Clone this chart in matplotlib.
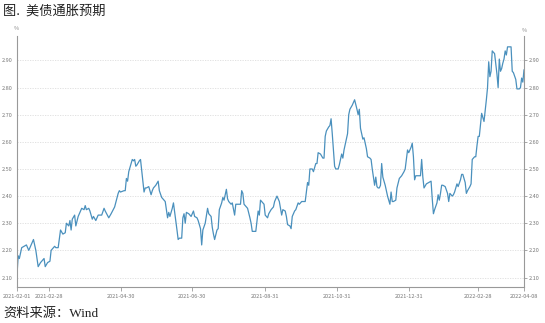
import pandas as pd
import matplotlib
matplotlib.use('Agg')
import matplotlib.pyplot as plt
import matplotlib.dates as mdates

plt.rcParams['font.family'] = ['Noto Sans CJK SC', 'DejaVu Sans']

# days since 2021-02-01, breakeven inflation (%)
start = '2021-02-01'
days = [0, 1, 2, 4, 6, 8, 10, 12, 14, 16, 18, 20, 22, 23, 24, 26, 28, 29, 30, 32,
        33, 35, 37, 39, 41, 42, 44, 45, 46, 47, 49, 50, 52, 54, 55, 57, 58, 59, 61, 62,
        63, 64, 65, 67, 69, 71, 72, 74, 75, 78, 80, 83, 86, 87, 88,
        91, 92, 93, 94, 95, 97, 98, 99, 100, 101, 102, 104, 105, 106, 108, 109, 110, 112,
        114, 115, 116, 118, 120, 121, 123, 124, 126, 127, 128, 129, 130, 132, 133, 135,
        136, 137, 138, 140, 141, 142, 143, 144, 146, 148, 150, 151, 153, 154, 156, 157,
        158, 160, 162, 163, 165, 166, 167, 168, 170, 171, 172, 174, 175,
        176, 178, 179, 180, 182, 183, 185, 186, 188, 190, 191, 192, 193, 195, 196, 198,
        199, 200, 202, 203, 205, 206, 207, 209, 210, 211, 213, 214, 216, 218, 219, 221,
        223, 224, 225, 226, 228, 229, 230, 232, 233, 234, 236, 237, 239, 240, 242, 244,
        245, 247, 248, 249, 251, 252, 254, 255, 256, 258, 260, 261,
        262, 263, 265, 266, 267, 268, 270, 271, 273, 274, 276, 277, 278, 280, 281, 282,
        283, 285, 286, 287, 289, 290, 291, 292, 293, 294, 295, 297, 298, 300, 301, 302,
        304, 305, 306, 307, 308, 309, 310, 311, 313, 314, 315, 317, 318, 319, 320, 322,
        323, 325, 326, 327, 329, 330, 332, 333, 334, 335, 336, 337, 338, 339, 341, 343,
        344, 345, 346,
        348, 350, 352, 353, 354, 355, 357, 358, 359, 360, 361, 362, 364, 366, 367, 368,
        370, 371, 372, 373, 374, 375, 377, 378, 379, 381, 382, 383, 385, 386, 387, 389,
        390, 391, 392, 393, 395, 396, 397, 398, 399, 400, 401, 402, 403, 404, 405, 406,
        408, 409, 410, 411, 412, 413, 414, 415, 416, 417, 419, 420, 421, 422, 424, 425,
        427, 428, 429, 430, 431]
values = [2.11, 2.18, 2.17, 2.21, 2.215, 2.22, 2.20, 2.22, 2.24, 2.20, 2.14, 2.155, 2.165, 2.17, 2.14, 2.155, 2.16, 2.20, 2.205, 2.215,
          2.21, 2.21, 2.275, 2.26, 2.265, 2.30, 2.29, 2.31, 2.275, 2.315, 2.33, 2.29, 2.325, 2.345, 2.355, 2.35, 2.365, 2.35, 2.355, 2.345,
          2.33, 2.315, 2.325, 2.31, 2.33, 2.33, 2.33, 2.355, 2.345, 2.32, 2.335, 2.36, 2.41, 2.42, 2.415,
          2.42, 2.42, 2.465, 2.455, 2.49, 2.52, 2.535, 2.53, 2.535, 2.51, 2.515, 2.53, 2.535, 2.495, 2.415, 2.43, 2.43, 2.435,
          2.405, 2.42, 2.43, 2.44, 2.455, 2.42, 2.395, 2.39, 2.38, 2.35, 2.32, 2.34, 2.325, 2.355, 2.375, 2.31,
          2.275, 2.24, 2.245, 2.245, 2.32, 2.335, 2.30, 2.34, 2.335, 2.325, 2.345, 2.325, 2.32, 2.31, 2.28, 2.22,
          2.275, 2.30, 2.355, 2.335, 2.325, 2.285, 2.26, 2.24, 2.275, 2.28, 2.35, 2.375, 2.395,
          2.385, 2.425, 2.39, 2.38, 2.37, 2.375, 2.33, 2.37, 2.37, 2.37, 2.42, 2.41, 2.37, 2.36, 2.355, 2.32,
          2.30, 2.27, 2.27, 2.27, 2.345, 2.33, 2.385, 2.375, 2.37, 2.33, 2.32, 2.335, 2.35, 2.36, 2.38, 2.40,
          2.38, 2.355, 2.33, 2.35, 2.345, 2.325, 2.295, 2.29, 2.28, 2.325, 2.345, 2.35, 2.375, 2.37, 2.38, 2.38,
          2.38, 2.45, 2.44, 2.50, 2.50, 2.49, 2.52, 2.52, 2.56, 2.555, 2.54, 2.54,
          2.62, 2.64, 2.655, 2.66, 2.685, 2.63, 2.51, 2.50, 2.50, 2.515, 2.555, 2.54, 2.57, 2.61, 2.63, 2.70,
          2.72, 2.735, 2.745, 2.755, 2.72, 2.70, 2.72, 2.65, 2.63, 2.61, 2.615, 2.575, 2.545, 2.54, 2.535, 2.50,
          2.44, 2.47, 2.435, 2.43, 2.43, 2.44, 2.52, 2.47, 2.44, 2.42, 2.40, 2.37, 2.415, 2.38, 2.38, 2.385,
          2.43, 2.465, 2.47, 2.475, 2.49, 2.50, 2.57, 2.56, 2.57, 2.58, 2.595, 2.545, 2.46, 2.475, 2.475, 2.475,
          2.535, 2.47, 2.43,
          2.445, 2.45, 2.455, 2.39, 2.335, 2.35, 2.375, 2.405, 2.385, 2.41, 2.44, 2.44, 2.435, 2.41, 2.38, 2.41,
          2.40, 2.405, 2.415, 2.43, 2.445, 2.435, 2.46, 2.48, 2.48, 2.45, 2.41, 2.42, 2.435, 2.445, 2.535, 2.545,
          2.545, 2.585, 2.62, 2.62, 2.705, 2.69, 2.675, 2.715, 2.755, 2.80, 2.895, 2.84, 2.86, 2.935, 2.93, 2.925,
          2.85, 2.80, 2.905, 2.86, 2.87, 2.89, 2.905, 2.935, 2.92, 2.95, 2.95, 2.95, 2.86, 2.855, 2.83, 2.795,
          2.795, 2.80, 2.835, 2.82, 2.865]
tick_dates = ['2021-02-01', '2021-02-28', '2021-04-30', '2021-06-30', '2021-08-31',
              '2021-10-31', '2021-12-31', '2022-02-28', '2022-04-08']
yticks = [2.10, 2.20, 2.30, 2.40, 2.50, 2.60, 2.70, 2.80, 2.90]


def draw():
    dates = pd.Timestamp(start) + pd.to_timedelta(days, unit='D')
    ticks = pd.to_datetime(tick_dates)

    fig = plt.figure(figsize=(5.45, 3.23), dpi=100)
    ax = fig.add_axes([17 / 545, 1 - 287 / 323, 507 / 545, 251 / 323])
    ax.plot(dates, values, color='#4a90bd', lw=0.9)

    ax.set_xlim(ticks[0], ticks[-1])
    ax.set_ylim(2.065, 2.99)
    ax.set_yticks(yticks)
    ax.yaxis.set_major_formatter(plt.FormatStrFormatter('%.2f'))
    ax.set_xticks(ticks)
    ax.xaxis.set_major_formatter(mdates.DateFormatter('%Y-%m-%d'))
    ax.grid(axis='y', color='#dddddd', ls=(0, (1.5, 1.5)), lw=0.6)

    for s in ['left', 'right', 'bottom']:
        ax.spines[s].set_color('#999999')
        ax.spines[s].set_linewidth(0.8)
    ax.spines['top'].set_visible(False)

    ax.tick_params(axis='x', labelsize=4, colors='#999999', labelcolor='#777777',
                   length=3, width=0.6, pad=2)
    ax.tick_params(axis='y', labelsize=4, colors='#999999', labelcolor='#777777',
                   length=2, width=0.6, pad=1.5, left=True, right=True, labelright=True)
    # only the right axis shows little tick marks
    for t in ax.yaxis.get_major_ticks():
        t.tick1line.set_visible(False)

    fig.text(16 / 545, 1 - 29 / 323, '%', fontsize=4, color='#888888', ha='center', va='center')
    fig.text(524 / 545, 1 - 30 / 323, '%', fontsize=4, color='#888888', ha='center', va='center')

    fig.text(3 / 545, 1 - 11 / 323, '图.  美债通胀预期', fontsize=9.5, color='#222222',
             ha='left', va='center')
    fig.text(3 / 545, 1 - 314 / 323, '资料来源：Wind', fontsize=9.5, color='#222222',
             ha='left', va='center', family=['Liberation Serif', 'Noto Sans CJK SC'])

    fig.savefig('out.png', dpi=100)


if __name__ == '__main__':
    draw()
